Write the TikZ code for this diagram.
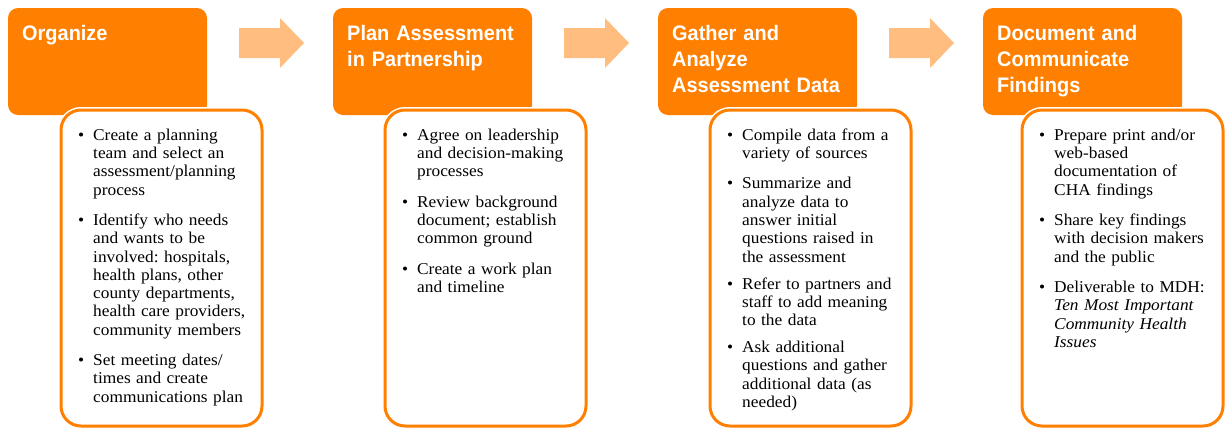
\documentclass[tikz,border=0pt]{standalone}
\usepackage{fontspec}
\setmainfont{Liberation Serif}
\newfontfamily\headfont[FakeStretch=0.95]{Liberation Sans}
\newfontfamily\stepfont[FakeStretch=1.05]{Liberation Serif}
\usetikzlibrary{calc}
\definecolor{stepOrange}{RGB}{255,128,0}
\definecolor{arrowOrange}{RGB}{255,190,128}
\frenchspacing
\newcommand{\stepitem}[1]{\noindent\makebox[15pt][l]{\textbullet}\parbox[t]{165pt}{\strut#1}\par\vspace{13pt}}

\begin{document}
\begin{tikzpicture}[x=1pt, y=1pt,
    header/.style={fill=stepOrange, rounded corners=10pt, minimum width=199pt, minimum height=107pt, anchor=north west, inner sep=0pt, outer sep=0pt},
    headtext/.style={text=white, font=\headfont\bfseries\fontsize{21}{26}\selectfont, text width=190pt, align=left, anchor=north west, inner sep=0pt},
    stepbody/.style={draw=stepOrange, line width=3pt, fill=white, rounded corners=20pt, minimum width=201pt, minimum height=316pt, anchor=north west, outer sep=0pt, preaction={draw=white, line width=6pt}},
    bodytext/.style={font=\stepfont\frenchspacing\fontsize{16.5}{18.3}\selectfont, text width=185pt, anchor=north west, inner sep=0pt},
    flowarrow/.style={fill=arrowOrange}]
    \useasboundingbox (0, 0) rectangle (1225, -429);

    % headers
    \node [header] (org) at (8, -8) {};
    \node [header] (plan) at (333, -8) {};
    \node [header] (gather) at (658, -8) {};
    \node [header] (report) at (983, -8) {};
    \node [headtext] (orgtitle) at ($ (org.north west) + (14, -13.8) $) {\strut Organize};
    \node [headtext] (plantitle) at ($ (plan.north west) + (14, -13.8) $) {\strut Plan Assessment\\in Partnership};
    \node [headtext] (gathertitle) at ($ (gather.north west) + (14, -13.8) $) {\strut Gather and\\Analyze\\Assessment Data};
    \node [headtext] (reporttitle) at ($ (report.north west) + (14, -13.8) $) {\strut Document and\\Communicate\\Findings};

    % block arrows between the headers
    \fill [flowarrow] ($ (org.north east) + (32, -20) $) coordinate (a1) -- ++(41, 0) -- ++(0, 10) -- ++(24, -25) -- ++(-24, -25) -- ++(0, 10) -- ++(-41, 0) -- cycle;
    \fill [flowarrow] ($ (plan.north east) + (32, -20) $) coordinate (a2) -- ++(41, 0) -- ++(0, 10) -- ++(24, -25) -- ++(-24, -25) -- ++(0, 10) -- ++(-41, 0) -- cycle;
    \fill [flowarrow] ($ (gather.north east) + (32, -20) $) coordinate (a3) -- ++(41, 0) -- ++(0, 10) -- ++(24, -25) -- ++(-24, -25) -- ++(0, 10) -- ++(-41, 0) -- cycle;

    % bodies
    \node [stepbody] (orgbody) at (61, -110) {};
    \node [stepbody] (planbody) at (385, -110) {};
    \node [stepbody] (gatherbody) at (710, -110) {};
    \node [stepbody] (reportbody) at (1022, -110) {};

    \node [bodytext] (orglist) at ($ (orgbody.north west) + (17, -17.2) $) {%
        \stepitem{Create a planning\newline team and select an\newline assessment/planning\newline process}%
        \stepitem{Identify who needs\newline and wants to be\newline involved: hospitals,\newline health plans, other\newline county departments,\newline health care providers,\newline community members}%
        \stepitem{Set meeting dates/\newline times and create\newline communications plan}};
    \node [bodytext] (planlist) at ($ (planbody.north west) + (17, -17.2) $) {%
        \stepitem{Agree on leadership\newline and decision-making\newline processes}%
        \stepitem{Review background\newline document; establish\newline common ground}%
        \stepitem{Create a work plan\newline and timeline}};
    \node [bodytext] (gatherlist) at ($ (gatherbody.north west) + (17, -17.2) $) {%
        \stepitem{Compile data from a\newline variety of sources}%
        \stepitem{Summarize and\newline analyze data to\newline answer initial\newline questions raised in\newline the assessment}%
        \stepitem{Refer to partners and\newline staff to add meaning\newline to the data}%
        \stepitem{Ask additional\newline questions and gather\newline additional data (as\newline needed)}};
    \node [bodytext] (reportlist) at ($ (reportbody.north west) + (17, -17.2) $) {%
        \stepitem{Prepare print and/or\newline web-based\newline documentation of\newline CHA findings}%
        \stepitem{Share key findings\newline with decision makers\newline and the public}%
        \stepitem{Deliverable to MDH:\newline \textit{Ten Most Important\newline Community Health\newline Issues}}};
\end{tikzpicture}
\end{document}
